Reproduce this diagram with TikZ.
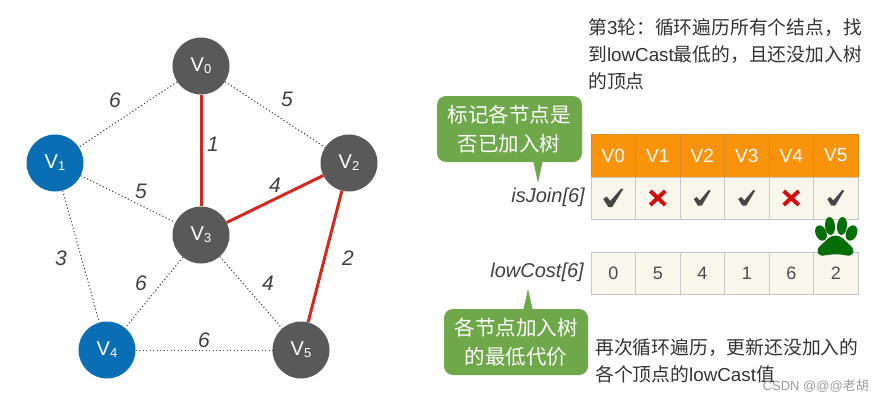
\documentclass[tikz,border=0pt]{standalone}
\usepackage{fontspec}
\setmainfont{Liberation Sans}
\newfontfamily\cjk{Noto Sans CJK SC}
\newcommand{\vlab}[1]{V\raisebox{-2pt}{\fontsize{13}{13}\selectfont #1}}
\definecolor{blue1}{HTML}{0A6EB4}
\definecolor{red1}{HTML}{D42A1E}
\definecolor{red2}{HTML}{D01010}
\definecolor{orange1}{HTML}{F9930C}
\definecolor{orange2}{HTML}{D98A20}
\definecolor{cream}{HTML}{F9F6EC}
\definecolor{green1}{HTML}{6FA84B}
\definecolor{green2}{HTML}{076E07}
\tikzset{
  x=1pt,y=-1pt,
  vertex/.style={circle,minimum size=57pt,inner sep=0pt,text=white,font=\fontsize{20}{20}\selectfont},
  gray vertex/.style={vertex,fill=black!65!white},
  blue vertex/.style={vertex,fill=blue1},
  weak/.style={dash pattern=on 1.2pt off 2.3pt,line width=1pt,draw=black!75},
  strong/.style={line width=3pt,draw=red1},
  weight/.style={font=\itshape\fontsize{21}{21}\selectfont,text=black!75,inner sep=0pt},
  head/.style={fill=orange1,draw=orange2,line width=0.4pt,minimum width=44.5pt,minimum height=43pt,inner sep=0pt,text=white,font=\fontsize{19}{19}\selectfont},
  cell/.style={fill=cream,draw=black!22,line width=0.5pt,minimum width=44.5pt,minimum height=42pt,inner sep=0pt,text=black!70,font=\fontsize{18}{18}\selectfont},
  callout/.style={fill=green1,rounded corners=9pt},
  calltext/.style={text=white,align=center,font=\cjk\fontsize{20.5}{29}\selectfont,inner sep=0pt},
  para/.style={text=black!80,align=left,anchor=north west,inner sep=0pt,font=\fontsize{18.8}{27}\selectfont},
  arrname/.style={font=\itshape\fontsize{20}{20}\selectfont,text=black!75,anchor=east,inner sep=0pt},
  okmark/.style={fill=black!72},
  nomark/.style={line width=4pt,draw=red2},
  paw/.style={fill=green2},
}
\begin{document}
\begin{tikzpicture}
\useasboundingbox (0,0) rectangle (883,402);
% graph
\node[gray vertex] (v0) at (201,66) {\vlab{0}};
\node[blue vertex] (v1) at (55,163) {\vlab{1}};
\node[gray vertex] (v2) at (349,163) {\vlab{2}};
\node[gray vertex] (v3) at (201,235) {\vlab{3}};
\node[blue vertex] (v4) at (107,350) {\vlab{4}};
\node[gray vertex] (v5) at (301,350) {\vlab{5}};
\draw[weak] (v0)--(v1);
\draw[weak] (v0)--(v2);
\draw[weak] (v1)--(v3);
\draw[weak] (v1)--(v4);
\draw[weak] (v3)--(v4);
\draw[weak] (v3)--(v5);
\draw[weak] (v4)--(v5);
\draw[strong] (v0)--(v3);
\draw[strong] (v3)--(v2);
\draw[strong] (v2)--(v5);
\node[weight] (w1) at (115,100) {6};
\node[weight] (w2) at (287,99) {5};
\node[weight] (w3) at (213,144) {1};
\node[weight] (w4) at (141,191) {5};
\node[weight] (w5) at (275,185) {4};
\node[weight] (w6) at (61,258) {3};
\node[weight] (w7) at (348,258) {2};
\node[weight] (w8) at (141,283) {6};
\node[weight] (w9) at (268,283) {4};
\node[weight] (w10) at (204,340) {6};
% top text
\node[para] (t1) at (588,18) {{\cjk 第}3{\cjk 轮：循环遍历所有个结点，找}\\{\cjk 到}lowCast{\cjk 最低的，且还没加入树}\\{\cjk 的顶点}};
% callout 1
\path[callout] (437,96) -- (582,96) -- (582,162) -- (437,162) -- cycle;
\fill[green1] (533,160) -- (538,183) -- (543,160) -- cycle;
\node[calltext] (c1) at (509,129) {标记各节点是\\否已加入树};
% table
\foreach \n [count=\i from 0] in {V0,V1,V2,V3,V4,V5}{
  \node[head] (h\i) at (613.25+44.5*\i,155.5) {\n};
}
\foreach \i in {0,...,5}{
  \node[cell] (r\i) at (613.25+44.5*\i,198) {};
}
\foreach \n [count=\i from 0] in {0,5,4,1,6,2}{
  \node[cell] (c\i) at (613.25+44.5*\i,273) {\n};
}
% check marks
\fill[okmark] ([shift={(-10,1)}]r0.center) -- ([shift={(-6.5,-1.5)}]r0.center) -- ([shift={(-3,3)}]r0.center) -- ([shift={(8,-9.5)}]r0.center) -- ([shift={(10,-9)}]r0.center) -- ([shift={(-1,9)}]r0.center) -- ([shift={(-5,9)}]r0.center) -- cycle;
\foreach \i in {2,3,5}{
  \fill[okmark] ([shift={(-8.5,1)}]r\i.center) -- ([shift={(-5.5,-1)}]r\i.center) -- ([shift={(-2.5,2.5)}]r\i.center) -- ([shift={(6.5,-8)}]r\i.center) -- ([shift={(8.5,-7.5)}]r\i.center) -- ([shift={(-0.5,7.5)}]r\i.center) -- ([shift={(-4.5,7.5)}]r\i.center) -- cycle;
}
\foreach \i in {1,4}{
  \draw[nomark] ([shift={(-7.5,-7)}]r\i.center) -- ([shift={(7.5,7)}]r\i.center);
  \draw[nomark] ([shift={(7.5,-7)}]r\i.center) -- ([shift={(-7.5,7)}]r\i.center);
}
\node[arrname] (a1) at (585,197) {isJoin[6]};
\node[arrname] (a2) at (584,272) {lowCost[6]};
% paw
\fill[paw,rotate around={22:(821,233)}] (821,233) ellipse (5.5pt and 8pt);
\fill[paw,rotate around={6:(830,226)}] (830,226) ellipse (5pt and 9pt);
\fill[paw,rotate around={-6:(842,226)}] (842,226) ellipse (5pt and 9pt);
\fill[paw,rotate around={-22:(851.5,233)}] (851.5,233) ellipse (5.5pt and 8pt);
\fill[paw] (835.5,235.5) .. controls (829,235.5) and (826,241) .. (821,245) .. controls (815,250) and (817,256.5) .. (824,255.5) .. controls (830,254) and (841,254) .. (847,255.5) .. controls (854,256.5) and (856,250) .. (850,245) .. controls (845,241) and (842,235.5) .. (835.5,235.5) -- cycle;
% callout 2
\path[callout] (444,309) -- (588,309) -- (588,375) -- (444,375) -- cycle;
\fill[green1] (523,311) -- (528,289) -- (533,311) -- cycle;
\node[calltext] (c2) at (516,342) {各节点加入树\\的最低代价};
% bottom text
\node[para] (t2) at (595,338) {{\cjk 再次循环遍历，更新还没加入的}\\{\cjk 各个顶点的}lowCast{\cjk 值}};
\node[inner sep=0pt,text=black!40,anchor=east,font=\fontsize{13}{13}\selectfont] (wm) at (869,386) {CSDN @@@{\cjk 老胡}};
\end{tikzpicture}
\end{document}
